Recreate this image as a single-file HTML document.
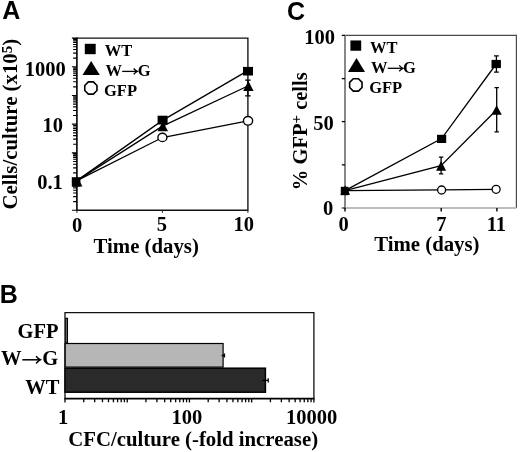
<!DOCTYPE html>
<html><head><meta charset="utf-8"><style>
html,body{margin:0;padding:0;background:#fff;}
svg{display:block;filter:grayscale(1);}
</style></head><body>
<svg width="520" height="452" viewBox="0 0 520 452">
<rect width="520" height="452" fill="#fff"/>
<path d="M76.9 38.1H247.9V210.25H76.9" fill="none" stroke="#111" stroke-width="1.35"/>
<path d="M76.9 37.5V210.85" stroke="#000" stroke-width="1.6"/>
<path d="M71.9 210.25H76.9 M73.1 201.61H76.9 M73.1 196.56H76.9 M73.1 192.98H76.9 M73.1 190.20H76.9 M73.1 187.92H76.9 M73.1 186.00H76.9 M73.1 184.34H76.9 M73.1 182.87H76.9 M71.9 181.56H76.9 M73.1 172.92H76.9 M73.1 167.87H76.9 M73.1 164.28H76.9 M73.1 161.50H76.9 M73.1 159.23H76.9 M73.1 157.31H76.9 M73.1 155.65H76.9 M73.1 154.18H76.9 M71.9 152.87H76.9 M73.1 144.23H76.9 M73.1 139.18H76.9 M73.1 135.59H76.9 M73.1 132.81H76.9 M73.1 130.54H76.9 M73.1 128.62H76.9 M73.1 126.96H76.9 M73.1 125.49H76.9 M71.9 124.17H76.9 M73.1 115.54H76.9 M73.1 110.49H76.9 M73.1 106.90H76.9 M73.1 104.12H76.9 M73.1 101.85H76.9 M73.1 99.93H76.9 M73.1 98.26H76.9 M73.1 96.80H76.9 M71.9 95.48H76.9 M73.1 86.85H76.9 M73.1 81.79H76.9 M73.1 78.21H76.9 M73.1 75.43H76.9 M73.1 73.16H76.9 M73.1 71.24H76.9 M73.1 69.57H76.9 M73.1 68.10H76.9 M71.9 66.79H76.9 M73.1 58.15H76.9 M73.1 53.10H76.9 M73.1 49.52H76.9 M73.1 46.74H76.9 M73.1 44.47H76.9 M73.1 42.54H76.9 M73.1 40.88H76.9 M73.1 39.41H76.9 M71.9 38.10H76.9" stroke="#000" stroke-width="1.15"/>
<path d="M76.90 210.25V212.85 M162.40 210.25V212.85 M247.90 210.25V212.85" stroke="#222" stroke-width="1"/>
<polyline fill="none" stroke="#000" stroke-width="1.3" points="76.9,180.6 162.5,120.4 247.9,70.6"/>
<polyline fill="none" stroke="#000" stroke-width="1.3" points="76.9,180.6 162.5,126.1 247.9,86.0"/>
<polyline fill="none" stroke="#000" stroke-width="1.3" points="76.9,180.6 162.4,137.5 247.9,120.8"/>
<path d="M247.90 80.2V95.8M245.10 80.2H250.70M245.10 95.8H250.70" stroke="#000" stroke-width="1.3"/>
<ellipse cx="162.40" cy="137.40" rx="4.5" ry="4.2" fill="#fff" stroke="#000" stroke-width="1.35"/>
<ellipse cx="248.05" cy="120.85" rx="4.6" ry="4.3" fill="#fff" stroke="#000" stroke-width="1.35"/>
<rect x="71.80" y="177.20" width="8.6" height="9.4" fill="#000"/>
<rect x="157.60" y="115.70" width="10.0" height="8.8" fill="#000"/>
<rect x="243.00" y="66.90" width="10.0" height="8.6" fill="#000"/>
<path d="M77.20 176.60L82.40 186.40H72.00Z" fill="#000"/>
<path d="M162.80 121.30L168.00 131.30H157.60Z" fill="#000"/>
<path d="M248.40 81.10L253.60 90.90H243.20Z" fill="#000"/>
<rect x="84.80" y="43.80" width="10.9" height="10.4" fill="#000"/>
<path d="M91.15 60.9L99.8 74.9H82.5Z" fill="#000"/>
<path d="M88.32 81.90L93.38 81.90L96.95 85.47L96.95 90.53L93.38 94.10L88.32 94.10L84.75 90.53L84.75 85.47Z" fill="#fff" stroke="#000" stroke-width="1.6"/>
<path d="M122.2 71.4H136.70000000000002" stroke="#000" stroke-width="1.3"/><path d="M133.70 68.50Q135.68 70.68 137.30 71.40Q135.68 72.12 133.70 74.30" fill="none" stroke="#000" stroke-width="1.3" stroke-linejoin="miter"/>
<path d="M345.0 35.4H516.4V208.0" fill="none" stroke="#4a4a4a" stroke-width="1.2"/>
<path d="M345.0 208.0H516.4" stroke="#bdbdbd" stroke-width="1.8"/>
<path d="M345.0 34.9V208.5" stroke="#888" stroke-width="2"/>
<path d="M341.8 208.00H345.0 M341.8 164.85H345.0 M341.8 121.70H345.0 M341.8 78.55H345.0 M341.8 35.40H345.0" stroke="#000" stroke-width="1.2"/>
<path d="M345.00 208.0V211.4 M441.20 208.0V211.4 M496.90 208.0V211.4" stroke="#000" stroke-width="1.4"/>
<polyline fill="none" stroke="#000" stroke-width="1.3" points="345.0,190.6 441.6,138.6 496.2,64.0"/>
<polyline fill="none" stroke="#000" stroke-width="1.3" points="345.0,190.6 441.0,165.6 496.7,109.8"/>
<polyline fill="none" stroke="#000" stroke-width="1.3" points="345.0,190.6 441.6,189.8 496.1,189.3"/>
<path d="M496.40 55.8V72.2M494.00 55.8H498.80M494.00 72.2H498.80" stroke="#000" stroke-width="1.3"/>
<path d="M496.70 87.7V131.8M494.50 87.7H498.90M494.50 131.8H498.90" stroke="#000" stroke-width="1.3"/>
<path d="M441.10 157.1V173.9M438.90 157.1H443.30M438.90 173.9H443.30" stroke="#000" stroke-width="1.3"/>
<circle cx="441.60" cy="190.00" r="4.0" fill="#fff" stroke="#000" stroke-width="1.3"/>
<circle cx="496.10" cy="189.30" r="4.0" fill="#fff" stroke="#000" stroke-width="1.3"/>
<rect x="340.80" y="186.80" width="7.8" height="8.4" fill="#000"/>
<rect x="437.00" y="134.80" width="9.2" height="8.2" fill="#000"/>
<rect x="491.50" y="59.90" width="9.4" height="8.2" fill="#000"/>
<path d="M345.20 185.20L350.10 194.80H340.30Z" fill="#000"/>
<path d="M441.10 160.90L446.10 170.70H436.10Z" fill="#000"/>
<path d="M496.60 105.20L501.80 114.80H491.40Z" fill="#000"/>
<rect x="350.40" y="40.45" width="10.8" height="10.3" fill="#000"/>
<path d="M356.5 57.9L365 72H348Z" fill="#000"/>
<path d="M353.28 78.75L358.42 78.75L362.05 82.38L362.05 87.52L358.42 91.15L353.28 91.15L349.65 87.52L349.65 82.38Z" fill="#fff" stroke="#000" stroke-width="1.6"/>
<path d="M387.7 68.3H402.2" stroke="#000" stroke-width="1.3"/><path d="M399.20 65.40Q401.18 67.58 402.80 68.30Q401.18 69.02 399.20 71.20" fill="none" stroke="#000" stroke-width="1.3" stroke-linejoin="miter"/>
<rect x="65.7" y="318.3" width="1.8" height="24.9" fill="#888" stroke="#000" stroke-width="1.1"/>
<rect x="65.0" y="343.5" width="158.1" height="23.6" fill="#b6b6b6" stroke="#000" stroke-width="1.2"/>
<rect x="65.0" y="368.2" width="200.4" height="24.0" fill="#2a2a2a" stroke="#000" stroke-width="1.5"/>
<path d="M262 380.4H268.2M268.2 378.3V382.5" stroke="#000" stroke-width="1.3"/>
<path d="M221.6 355.5H224.6M224.4 353.4V357.6" stroke="#000" stroke-width="1.5"/>
<path d="M65.0 398.6V312.7H313.9V398.6" fill="none" stroke="#111" stroke-width="1.3"/>
<path d="M64.4 398.6H314.5" stroke="#000" stroke-width="1.6"/>
<path d="M65.00 398.6V402.6 M83.73 398.6V402.3 M94.69 398.6V402.3 M102.46 398.6V402.3 M108.49 398.6V402.3 M113.42 398.6V402.3 M117.59 398.6V402.3 M121.19 398.6V402.3 M124.38 398.6V402.3 M127.22 398.6V402.6 M145.96 398.6V402.3 M156.91 398.6V402.3 M164.69 398.6V402.3 M170.72 398.6V402.3 M175.65 398.6V402.3 M179.81 398.6V402.3 M183.42 398.6V402.3 M186.60 398.6V402.3 M189.45 398.6V402.6 M208.18 398.6V402.3 M219.14 398.6V402.3 M226.91 398.6V402.3 M232.94 398.6V402.3 M237.87 398.6V402.3 M242.04 398.6V402.3 M245.64 398.6V402.3 M248.83 398.6V402.3 M251.67 398.6V402.6 M270.41 398.6V402.3 M281.36 398.6V402.3 M289.14 398.6V402.3 M295.17 398.6V402.3 M300.10 398.6V402.3 M304.26 398.6V402.3 M307.87 398.6V402.3 M311.05 398.6V402.3 M313.90 398.6V402.6" stroke="#000" stroke-width="1.3"/>
<path d="M22.3 359.8H39.699999999999996" stroke="#000" stroke-width="1.5"/><path d="M36.10 356.20Q38.41 358.90 40.30 359.80Q38.41 360.70 36.10 363.40" fill="none" stroke="#000" stroke-width="1.5" stroke-linejoin="miter"/>
<g font-family="'Liberation Serif', serif" font-weight="bold" fill="#000">
<text x="2.27" y="19.25" font-family="'Liberation Sans', sans-serif" font-size="25">A</text>
<text x="286.95" y="19.95" font-family="'Liberation Sans', sans-serif" font-size="25">C</text>
<text x="-0.20" y="302.60" font-family="'Liberation Sans', sans-serif" font-size="25">B</text>
<text x="24.65" y="75.50" font-size="20.5">1000</text>
<text x="42.40" y="132.40" font-size="20.5">10</text>
<text x="37.20" y="189.00" font-size="20.5">0.1</text>
<text x="71.95" y="231.65" font-size="20.5">0</text>
<text x="156.75" y="231.40" font-size="20.5">5</text>
<text x="233.40" y="231.40" font-size="20.5">10</text>
<text x="93.55" y="252.80" font-size="20.8">Time (days)</text>
<text x="304.35" y="44.40" font-size="20.5">100</text>
<text x="313.25" y="129.70" font-size="20.5">50</text>
<text x="322.95" y="214.70" font-size="20.5">0</text>
<text x="338.40" y="231.30" font-size="20.5">0</text>
<text x="436.20" y="231.40" font-size="20.5">7</text>
<text x="486.75" y="231.25" font-size="20.5">11</text>
<text x="374.20" y="250.90" font-size="20.8">Time (days)</text>
<text x="17.45" y="338.35" font-size="20.5">GFP</text>
<text x="1.10" y="364.70" font-size="20.5">W</text>
<text x="42.20" y="364.90" font-size="20.5">G</text>
<text x="25.20" y="393.55" font-size="20.5">WT</text>
<text x="58.05" y="423.75" font-size="20.5">1</text>
<text x="171.60" y="423.65" font-size="20.5">100</text>
<text x="285.90" y="424.40" font-size="20.5">10000</text>
<text x="68.20" y="445.50" font-size="20.8">CFC/culture (-fold increase)</text>
<text transform="translate(17.25 209.45) rotate(-90)" font-size="20.8">Cells/culture (x10<tspan font-size="15" dy="-5.5">5</tspan><tspan dy="5.5">)</tspan></text>
<text transform="translate(306.75 190.15) rotate(-90)" font-size="20.5">% GFP<tspan font-size="15" dy="-6">+</tspan><tspan dy="6"> cells</tspan></text>
<text x="104.75" y="56.00" font-size="16.5">WT</text>
<text x="105.60" y="75.80" font-size="16.5">W</text>
<text x="137.65" y="76.10" font-size="16.5">G</text>
<text x="104.00" y="95.55" font-size="16.5">GFP</text>
<text x="370.10" y="52.85" font-size="16.5">WT</text>
<text x="371.00" y="72.60" font-size="16.5">W</text>
<text x="402.90" y="72.85" font-size="16.5">G</text>
<text x="369.20" y="93.00" font-size="16.5">GFP</text>
</g></svg>
</body></html>
